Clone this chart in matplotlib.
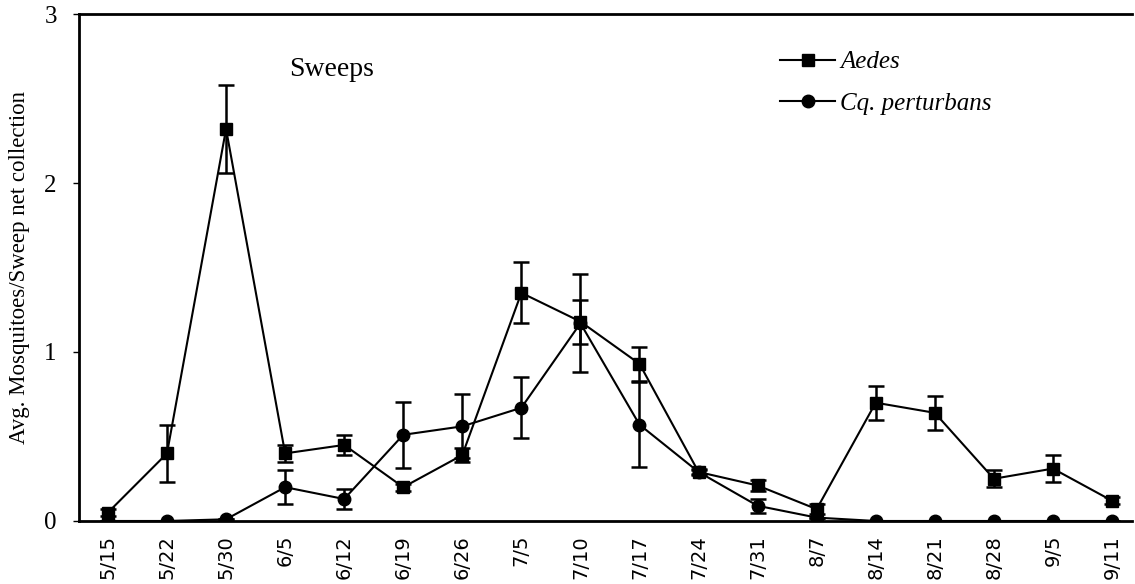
import matplotlib
matplotlib.use("Agg")
import matplotlib.pyplot as plt
from matplotlib.lines import Line2D

# date di raccolta (settimane)
dates = ['5/15', '5/22', '5/30', '6/5', '6/12', '6/19', '6/26', '7/5', '7/10',
         '7/17', '7/24', '7/31', '8/7', '8/14', '8/21', '8/28', '9/5', '9/11']

# Aedes: media e errore
aedes = [0.05, 0.40, 2.32, 0.40, 0.45, 0.20, 0.39, 1.35, 1.18,
         0.93, 0.29, 0.21, 0.07, 0.70, 0.64, 0.25, 0.31, 0.12]
aedes_err = [0.02, 0.17, 0.26, 0.05, 0.06, 0.02, 0.04, 0.18, 0.13,
             0.10, 0.02, 0.03, 0.03, 0.10, 0.10, 0.05, 0.08, 0.02]

# Coquillettidia perturbans: media e errore
cq = [0.0, 0.0, 0.01, 0.20, 0.13, 0.51, 0.56, 0.67, 1.17,
      0.57, 0.29, 0.09, 0.02, 0.0, 0.0, 0.0, 0.0, 0.0]
cq_err = [0.0, 0.0, 0.0, 0.10, 0.06, 0.195, 0.19, 0.18, 0.29,
          0.25, 0.01, 0.04, 0.0, 0.0, 0.0, 0.0, 0.0, 0.0]

serif = 'Liberation Serif'

fig = plt.figure(figsize=(11.35, 5.84), dpi=100)
ax = fig.add_axes([0.0696, 0.1079, 0.9278, 0.8681])

x = list(range(len(dates)))

ax.errorbar(x, cq, yerr=cq_err, color='black', marker='o', markersize=9,
            linewidth=1.5, elinewidth=1.8, capsize=5.5, capthick=1.8, zorder=3)
ax.errorbar(x, aedes, yerr=aedes_err, color='black', marker='s', markersize=9,
            linewidth=1.5, elinewidth=1.8, capsize=5.5, capthick=1.8, zorder=4)

ax.set_xlim(-0.49, 17.34)
ax.set_ylim(0, 3)
ax.set_yticks([0, 1, 2, 3])
ax.set_yticklabels(['0', '1', '2', '3'], fontfamily=serif, fontsize=18)
ax.set_xticks(x)
ax.set_xticklabels(dates, rotation=90, fontfamily='DejaVu Sans', fontsize=14)
ax.tick_params(axis='x', length=0, pad=10)
ax.tick_params(axis='y', direction='out', length=4, width=1, pad=12)

for s in ['left', 'bottom', 'top']:
    ax.spines[s].set_linewidth(2)
ax.spines['right'].set_visible(False)

ax.set_ylabel('Avg. Mosquitoes/Sweep net collection', fontfamily=serif, fontsize=16.5)
ax.yaxis.set_label_coords(-0.047, 0.5)

ax.text(0.2, 0.89, 'Sweeps', transform=ax.transAxes, fontfamily=serif,
        fontsize=20, ha='left', va='center')

# legenda senza barre d'errore
handles = [Line2D([], [], color='black', marker='s', markersize=9, linewidth=1.5),
           Line2D([], [], color='black', marker='o', markersize=9, linewidth=1.5)]
leg = ax.legend(handles, ['Aedes', 'Cq. perturbans'], loc='upper left',
                bbox_to_anchor=(780 / 1135, 1 - 51 / 584), bbox_transform=fig.transFigure,
                frameon=False, borderpad=0, borderaxespad=0, handlelength=2.2,
                handletextpad=0.2, labelspacing=0.75,
                prop={'family': serif, 'style': 'italic', 'size': 18})

fig.savefig('out.png', dpi=100)
plt.close(fig)
